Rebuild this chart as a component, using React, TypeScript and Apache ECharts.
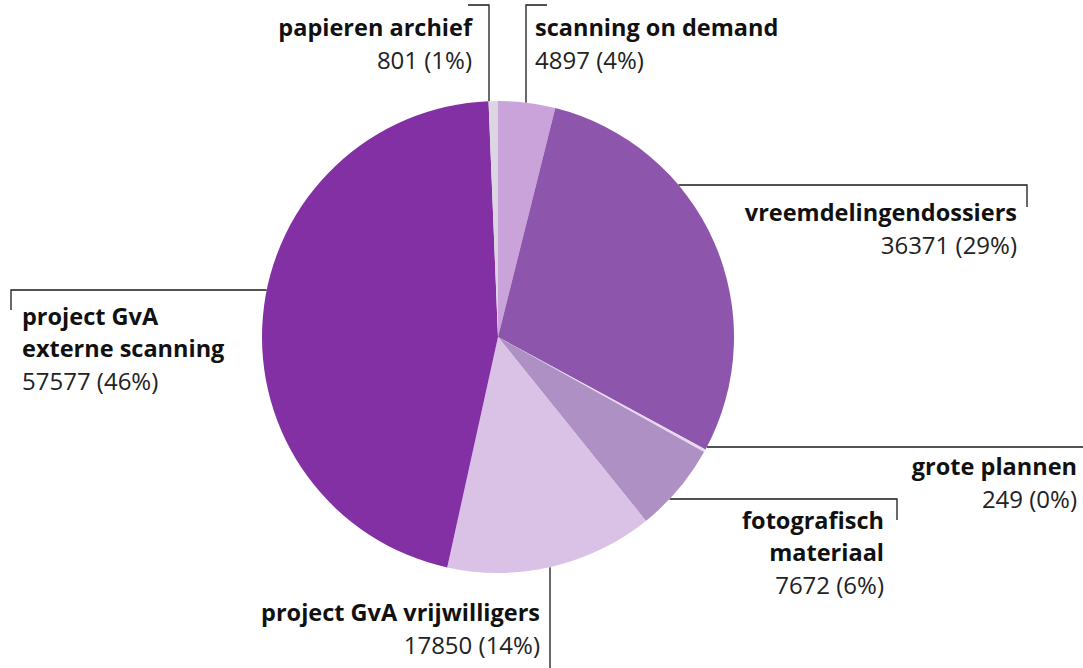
import React, { useEffect, useRef } from "react";
import * as echarts from "echarts";

const categories = [
  "scanning on demand",
  "vreemdelingendossiers",
  "grote plannen",
  "fotografisch\nmateriaal",
  "project GvA vrijwilligers",
  "project GvA\nexterne scanning",
  "papieren archief",
];
const values = [4897, 36371, 249, 7672, 17850, 57577, 801];
const colors = ["#c9a3da", "#8e55ad", "#e8d8ef", "#ae90c4", "#d9c2e6", "#8330a4", "#dcd5e2"];

// label layout specs (positions only)
const CX = 498, CY = 337, R = 236;
type Spec = {
  kind: "h" | "v";
  side: number;
  line: number;
  end: number;
  tick?: number;
  lx: number;
  ly: number;
  align: "left" | "right";
};
const specs: Spec[] = [
  { kind: "v", side: -1, line: 526, end: 5, tick: 547, lx: 535, ly: 11, align: "left" },
  { kind: "h", side: 1, line: 185, end: 1027, tick: 207, lx: 1017, ly: 196, align: "right" },
  { kind: "h", side: 1, line: 447, end: 1090, lx: 1077, ly: 450, align: "right" },
  { kind: "h", side: 1, line: 499, end: 897, tick: 520, lx: 884, ly: 504, align: "right" },
  { kind: "v", side: 1, line: 550, end: 690, lx: 540, ly: 596, align: "right" },
  { kind: "h", side: -1, line: 290, end: 11, tick: 310, lx: 22, ly: 300, align: "left" },
  { kind: "v", side: -1, line: 489, end: 5, tick: 468, lx: 472, ly: 11, align: "right" },
];

const total = values.reduce((a, b) => a + b, 0);

export default function App() {
  const ref = useRef<HTMLDivElement>(null);
  useEffect(() => {
    if (!ref.current) return;
    const chart = echarts.init(ref.current, null, { renderer: "svg" });
    const data = values.map((v, i) => ({
      value: v,
      name: categories[i],
      itemStyle: { color: colors[i] },
    }));
    chart.setOption({
      animation: false,
      backgroundColor: "#ffffff",
      series: [
        {
          type: "pie",
          center: [CX, CY],
          radius: [0, R],
          startAngle: 90,
          clockwise: true,
          avoidLabelOverlap: false,
          data,
          label: {
            show: true,
            position: "outside",
            fontFamily: "Open Sans",
            formatter: (p: any) => {
              const pct = Math.round((p.value / total) * 100);
              const nameLines = String(p.name)
                .split("\n")
                .map((s) => `{n|${s}}`)
                .join("\n");
              return `${nameLines}\n{v|${p.value} (${pct}%)}`;
            },
            rich: {
              n: {
                fontFamily: "Open Sans",
                fontSize: 23.5,
                fontWeight: "bold",
                color: "#111111",
                lineHeight: 32,
              },
              v: {
                fontFamily: "Open Sans",
                fontSize: 24,
                fontWeight: "normal",
                color: "#222222",
                lineHeight: 33,
              },
            },
          },
          labelLine: {
            show: true,
            lineStyle: { color: "#1a1a1a", width: 1.3 },
          },
          labelLayout: (params: any) => {
            const s = specs[params.dataIndex];
            let pts: number[][];
            if (s.kind === "h") {
              const dx = Math.sqrt(Math.max(0, R * R - (s.line - CY) * (s.line - CY)));
              const x0 = CX + (s.end > CX ? 1 : -1) * dx;
              pts = [
                [x0, s.line],
                [s.end, s.line],
              ];
              if (s.tick !== undefined) pts.push([s.end, s.tick]);
            } else {
              const dy = Math.sqrt(Math.max(0, R * R - (s.line - CX) * (s.line - CX)));
              const y0 = CY + s.side * dy;
              pts = [
                [s.line, y0],
                [s.line, s.end],
              ];
              if (s.tick !== undefined) pts.push([s.tick, s.end]);
            }
            if (pts.length === 2) pts.push([pts[1][0], pts[1][1]]);
            return {
              x: s.lx,
              y: s.ly,
              align: s.align,
              verticalAlign: "top",
              labelLinePoints: pts,
            };
          },
        },
      ],
    });
    return () => chart.dispose();
  }, []);
  return (
    <div
      ref={ref}
      style={{ position: "fixed", left: 0, top: 0, width: 1083, height: 668, background: "#fff" }}
    />
  );
}
